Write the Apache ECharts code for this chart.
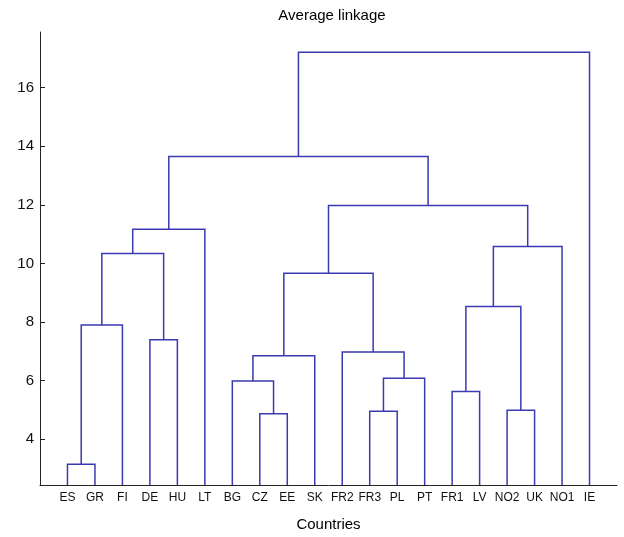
<!DOCTYPE html>
<html>
<head>
<meta charset="utf-8">
<script src="https://cdn.jsdelivr.net/npm/echarts@6/dist/echarts.min.js"></script>
<style>
  html, body { margin: 0; padding: 0; background: #ffffff; }
  #chart { width: 624px; height: 537px; }
</style>
</head>
<body>
<div id="chart"></div>
<script>
// Leaf order as drawn, left to right
const leaves = ['ES', 'GR', 'FI', 'DE', 'HU', 'LT', 'BG', 'CZ', 'EE', 'SK',
  'FR2', 'FR3', 'PL', 'PT', 'FR1', 'LV', 'NO2', 'UK', 'NO1', 'IE'];

// Linkage: node ids 0..19 are leaves, each merge creates node 20, 21, ...
const mergeLeft = [0, 7, 11, 16, 14, 6, 22, 25, 10, 3, 20, 24, 27, 30, 31, 33, 32, 35, 37];
const mergeRight = [1, 8, 12, 17, 15, 21, 13, 9, 26, 4, 2, 23, 28, 29, 18, 5, 34, 36, 19];
const mergeHeight = [3.15, 4.87, 4.96, 4.99, 5.63, 5.99, 6.08, 6.85, 6.98, 7.40,
  7.90, 8.53, 9.67, 10.34, 10.58, 11.17, 11.98, 13.65, 17.21];

const yTicks = [4, 6, 8, 10, 12, 14, 16];
const yMin = 2.44;
const yMax = 17.9;

// x position and height of every node
const nodeX = leaves.map((_, i) => i + 1);
const nodeH = leaves.map(() => yMin);
const links = [];
mergeHeight.forEach((h, k) => {
  const a = mergeLeft[k], b = mergeRight[k];
  links.push([nodeX[a], nodeX[b], nodeH[a], nodeH[b], h]);
  nodeX.push((nodeX[a] + nodeX[b]) / 2);
  nodeH.push(h);
});

const lineColor = '#3a3ab2';
const font = 'Liberation Sans, Arial, sans-serif';

const chart = echarts.init(document.getElementById('chart'));

chart.setOption({
  backgroundColor: '#ffffff',
  animation: false,
  title: {
    text: 'Average linkage',
    left: 327,
    textAlign: 'center',
    top: 3,
    textStyle: { fontFamily: font, fontSize: 15, fontWeight: 'normal', color: '#000' }
  },
  grid: { left: 40, right: 7, top: 32, bottom: 49 },
  xAxis: {
    type: 'value',
    min: 0,
    max: leaves.length + 1,
    name: 'Countries',
    nameLocation: 'middle',
    nameGap: 32,
    nameTextStyle: { fontFamily: font, fontSize: 15, color: '#000' },
    axisLine: { lineStyle: { color: '#222', width: 1 } },
    axisTick: { show: false },
    splitLine: { show: false },
    axisLabel: {
      customValues: leaves.map((_, i) => i + 1),
      formatter: v => leaves[v - 1],
      fontFamily: font,
      fontSize: 12,
      color: '#111',
      margin: 7
    }
  },
  yAxis: {
    type: 'value',
    min: yMin,
    max: yMax,
    axisLine: { show: true, lineStyle: { color: '#222', width: 1 } },
    axisTick: { show: true, inside: true, length: 5, customValues: yTicks, lineStyle: { color: '#222' } },
    splitLine: { show: false },
    axisLabel: {
      customValues: yTicks,
      fontFamily: font,
      fontSize: 15,
      color: '#111',
      margin: 6
    }
  },
  series: [{
    type: 'custom',
    data: links,
    renderItem: (params, api) => {
      const p1 = api.coord([api.value(0), api.value(2)]);
      const p2 = api.coord([api.value(0), api.value(4)]);
      const p3 = api.coord([api.value(1), api.value(4)]);
      const p4 = api.coord([api.value(1), api.value(3)]);
      return {
        type: 'polyline',
        shape: { points: [p1, p2, p3, p4] },
        style: { stroke: lineColor, lineWidth: 1.5, fill: null }
      };
    }
  }]
});
</script>
</body>
</html>
